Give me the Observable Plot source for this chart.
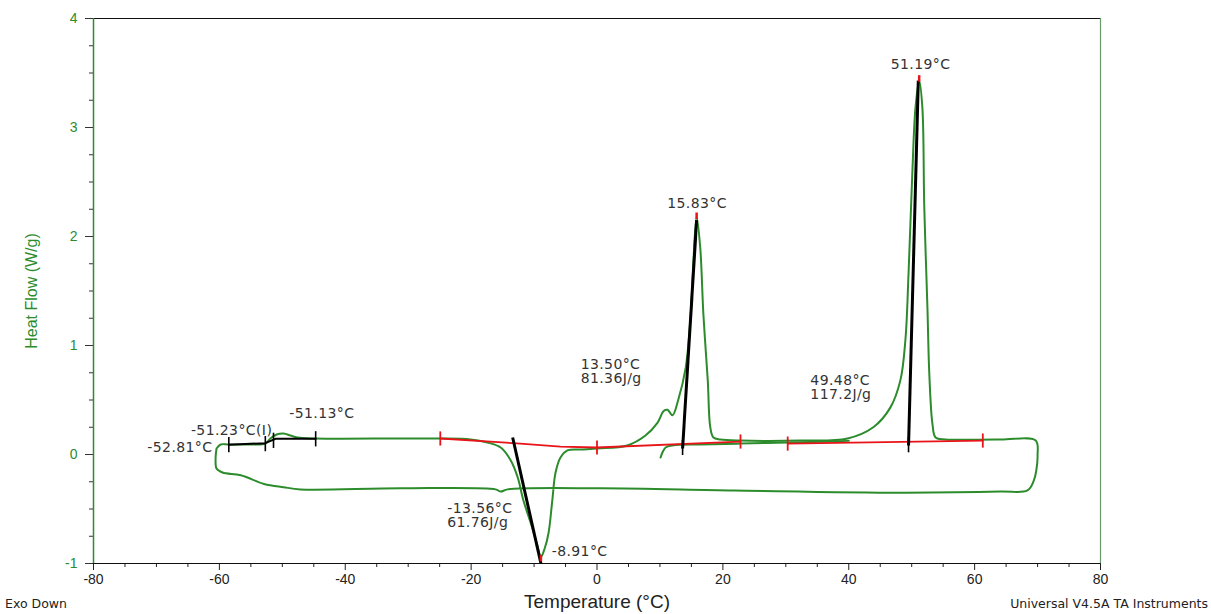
<!DOCTYPE html>
<html><head><meta charset="utf-8">
<script src="https://cdn.jsdelivr.net/npm/d3@7"></script>
<script src="https://cdn.jsdelivr.net/npm/@observablehq/plot@0.6"></script>
<style>
body{margin:0;background:#fff;}
#wrap{position:relative;width:1211px;height:614px;overflow:hidden;}
.foot{position:absolute;font-family:"DejaVu Sans",sans-serif;font-size:12.5px;color:#222;white-space:nowrap;}
svg [aria-label="x-axis label"]{font-size:19px;}
svg [aria-label="y-axis label"]{font-size:16px;}
svg g[aria-label="text"] text{letter-spacing:0.4px;}
</style></head><body><div id="wrap"></div>
<script>
// ---- data ----
const loopTemp = [-60.45,-59.8,-58.5,-55.1,-52.7,-51.9,-50.9,-49.8,-48.7,-47.6,-44.7,-31.2,-24.9,-20.1,-17.4,-15.3,-13.7,-12.6,-11.7,-10.3,-9.5,-8.91,-8.3,-7.7,-7.1,-6.6,-5.8,-4.7,-2.6,0.1,4.8,7.7,9.6,10.6,11.2,12.0,12.9,14.1,14.9,15.3,15.83,16.4,16.9,17.6,18.0,18.5,19.6,22.8,32.3,39.8,43.9,46.6,48.2,49.0,49.5,50.1,50.6,51.19,51.7,52.0,52.5,52.8,53.3,53.8,55.4,64.1,69.7,70.0,69.8,69.4,68.4,64.1,48.2,21.7,0.6,-14.2,-15.3,-16.1,-31.2,-47.1,-49.8,-52.9,-56.6,-59.5,-60.45,-60.6,-60.45];
const loopFlow = [0.055,0.092,0.092,0.092,0.10,0.147,0.183,0.193,0.174,0.156,0.147,0.147,0.147,0.138,0.11,0.064,-0.055,-0.21,-0.42,-0.67,-0.83,-0.94,-0.86,-0.72,-0.42,-0.17,-0.028,0.037,0.046,0.055,0.083,0.174,0.29,0.40,0.41,0.36,0.50,0.80,1.29,1.75,2.18,1.90,1.29,0.68,0.25,0.156,0.138,0.128,0.128,0.147,0.25,0.43,0.68,1.05,1.66,2.58,3.18,3.43,3.18,2.27,1.35,0.74,0.28,0.156,0.138,0.138,0.128,-0.01,-0.147,-0.24,-0.33,-0.34,-0.35,-0.33,-0.31,-0.32,-0.34,-0.32,-0.31,-0.32,-0.30,-0.27,-0.19,-0.165,-0.128,-0.037,0.055];
const startTemp = [10.1,10.4,10.9,12.0,16.4,22.8,30.3,37.1,40.0];
const startFlow = [-0.028,0.018,0.064,0.083,0.092,0.10,0.11,0.119,0.125];

// tangent (onset) lines
const tanX1 = [-13.4, 13.6, 49.5];
const tanY1 = [0.156, 0.055, 0.083];
const tanX2 = [-8.91, 15.83, 51.05];
const tanY2 = [-1.0, 2.15, 3.43];
// glass transition construction
const gtTemp = [-58.5,-52.7,-51.1,-44.7];
const gtFlow = [0.089,0.104,0.144,0.144];
const gtTickTemp = [-58.5,-52.7,-51.4,-44.7,13.6,49.5];
const gtTickFlow = [0.09,0.10,0.13,0.144,0.065,0.09];
// integration baselines (red)
const base1Temp = [-24.9,-12.2,-5.8,0];
const base1Flow = [0.147,0.10,0.073,0.064];
const base2Temp = [0,22.8];
const base2Flow = [0.064,0.119];
const base3Temp = [30.3,61.3];
const base3Flow = [0.10,0.128];
const redTickTemp = [-24.9,0,22.8,30.3,61.3];
const redTickFlow = [0.147,0.064,0.119,0.10,0.128];
const peakTemp = [-8.91,15.83,51.19];
const peakFlow = [-0.95,2.19,3.45];

// annotation labels
const startLabelText = ["-51.13°C","-13.56°C\n61.76J/g","-8.91°C","13.50°C\n81.36J/g","49.48°C\n117.2J/g"];
const startLabelX = [-48.9,-23.8,-7.2,-2.6,33.9];
const startLabelY = [0.376,-0.564,-0.89,0.757,0.61];
const endLabelText = ["-52.81°C","-51.23°C(I)"];
const endLabelX = [-61.1,-51.6];
const endLabelY = [0.064,0.22];
const midLabelText = ["15.83°C","51.19°C"];
const midLabelX = [15.9,51.4];
const midLabelY = [2.30,3.58];

const xMajor = [-80,-60,-40,-20,0,20,40,60,80];
const xMinor = [-75,-70,-65,-55,-50,-45,-35,-30,-25,-15,-10,-5,5,10,15,25,30,35,45,50,55,65,70,75];
const yMajor = [-1,0,1,2,3,4];
const yMinor = [-0.75,-0.5,-0.25,0.25,0.5,0.75,1.25,1.5,1.75,2.25,2.5,2.75,3.25,3.5,3.75];

// ---- build tables ----
const zip = (xs, ys) => xs.map((x,i) => ({x, y: ys[i]}));
const loop = zip(loopTemp, loopFlow);
const start = zip(startTemp, startFlow);
const tangents = tanX1.map((x,i) => ({x1:x, y1:tanY1[i], x2:tanX2[i], y2:tanY2[i]}));
const gt = zip(gtTemp, gtFlow);
const blackTicks = zip(gtTickTemp, gtTickFlow);
const redTicks = zip(redTickTemp, redTickFlow);
const peaks = zip(peakTemp, peakFlow);
const lab = (t, xs, ys) => t.map((s,i) => ({text:s, x:xs[i], y:ys[i]}));
const plain = d => String(d);

const green = "#2c8c2c";
const red = "#e8141a";
const txt = "#333";
const annFont = "DejaVu Sans, sans-serif";

const chart = Plot.plot({
  width: 1211, height: 614,
  marginLeft: 93, marginRight: 111, marginTop: 18, marginBottom: 51,
  x: {domain: [-80, 80]},
  y: {domain: [-1, 4]},
  style: {fontFamily: "Liberation Sans, Arial, sans-serif", fontSize: "14px", background: "white", color: "#111"},
  marks: [
    Plot.axisX({ticks: xMinor, tickSize: 4, tickFormat: () => "", label: null, stroke: "#222"}),
    Plot.axisX({ticks: xMajor, tickSize: 7, tickPadding: 4, tickFormat: plain, stroke: "#222", fill: "#222",
      label: "Temperature (°C)", labelAnchor: "center", labelArrow: "none", labelOffset: 44}),
    Plot.axisY({ticks: yMinor, tickSize: 4, tickFormat: () => "", label: null, stroke: "#333"}),
    Plot.axisY({ticks: yMajor, tickSize: 8, tickPadding: 8, tickFormat: plain, stroke: "#333", fill: green,
      label: "Heat Flow (W/g)", labelAnchor: "center", labelArrow: "none", labelOffset: 68}),
    Plot.ruleY([4], {stroke: "#111"}),
    Plot.ruleY([-1], {stroke: "#111"}),
    Plot.ruleX([-80], {stroke: green, strokeWidth: 1.5}),
    Plot.ruleX([80], {stroke: "#6a9a6a", strokeWidth: 1.2}),
    // curves
    Plot.line(start, {x: "x", y: "y", stroke: green, strokeWidth: 2, curve: "catmull-rom"}),
    Plot.line(loop, {x: "x", y: "y", stroke: green, strokeWidth: 2, curve: "catmull-rom"}),
    // red baselines
    Plot.line(zip(base1Temp, base1Flow), {x: "x", y: "y", stroke: red, strokeWidth: 1.8}),
    Plot.line(zip(base2Temp, base2Flow), {x: "x", y: "y", stroke: red, strokeWidth: 1.8}),
    Plot.line(zip(base3Temp, base3Flow), {x: "x", y: "y", stroke: red, strokeWidth: 1.8}),
    Plot.link(redTicks, {x1: "x", x2: "x", y1: d => d.y - 0.065, y2: d => d.y + 0.065, stroke: red, strokeWidth: 1.8}),
    // black construction lines
    Plot.link(tangents, {x1: "x1", y1: "y1", x2: "x2", y2: "y2", stroke: "#000", strokeWidth: 3}),
    Plot.line(gt, {x: "x", y: "y", stroke: "#000", strokeWidth: 2}),
    Plot.link(blackTicks, {x1: "x", x2: "x", y1: d => d.y - 0.07, y2: d => d.y + 0.07, stroke: "#000", strokeWidth: 1.6}),
    Plot.link(peaks, {x1: "x", x2: "x", y1: d => d.y - 0.03, y2: d => d.y + 0.03, stroke: red, strokeWidth: 2.5}),
    // labels
    Plot.text(lab(startLabelText, startLabelX, startLabelY), {x: "x", y: "y", text: "text", textAnchor: "start", fill: txt, fontSize: 14, fontFamily: annFont, lineHeight: 1.0}),
    Plot.text(lab(endLabelText, endLabelX, endLabelY), {x: "x", y: "y", text: "text", textAnchor: "end", fill: txt, fontSize: 14, fontFamily: annFont}),
    Plot.text(lab(midLabelText, midLabelX, midLabelY), {x: "x", y: "y", text: "text", textAnchor: "middle", fill: txt, fontSize: 14, fontFamily: annFont})
  ]
});
const wrap = document.getElementById("wrap");
wrap.appendChild(chart);
const f1 = document.createElement("div");
f1.className = "foot"; f1.textContent = "Exo Down";
f1.style.left = "5px"; f1.style.top = "596px";
const f2 = document.createElement("div");
f2.className = "foot"; f2.textContent = "Universal V4.5A TA Instruments";
f2.style.right = "3px"; f2.style.top = "596px";
wrap.appendChild(f1); wrap.appendChild(f2);
</script></body></html>
